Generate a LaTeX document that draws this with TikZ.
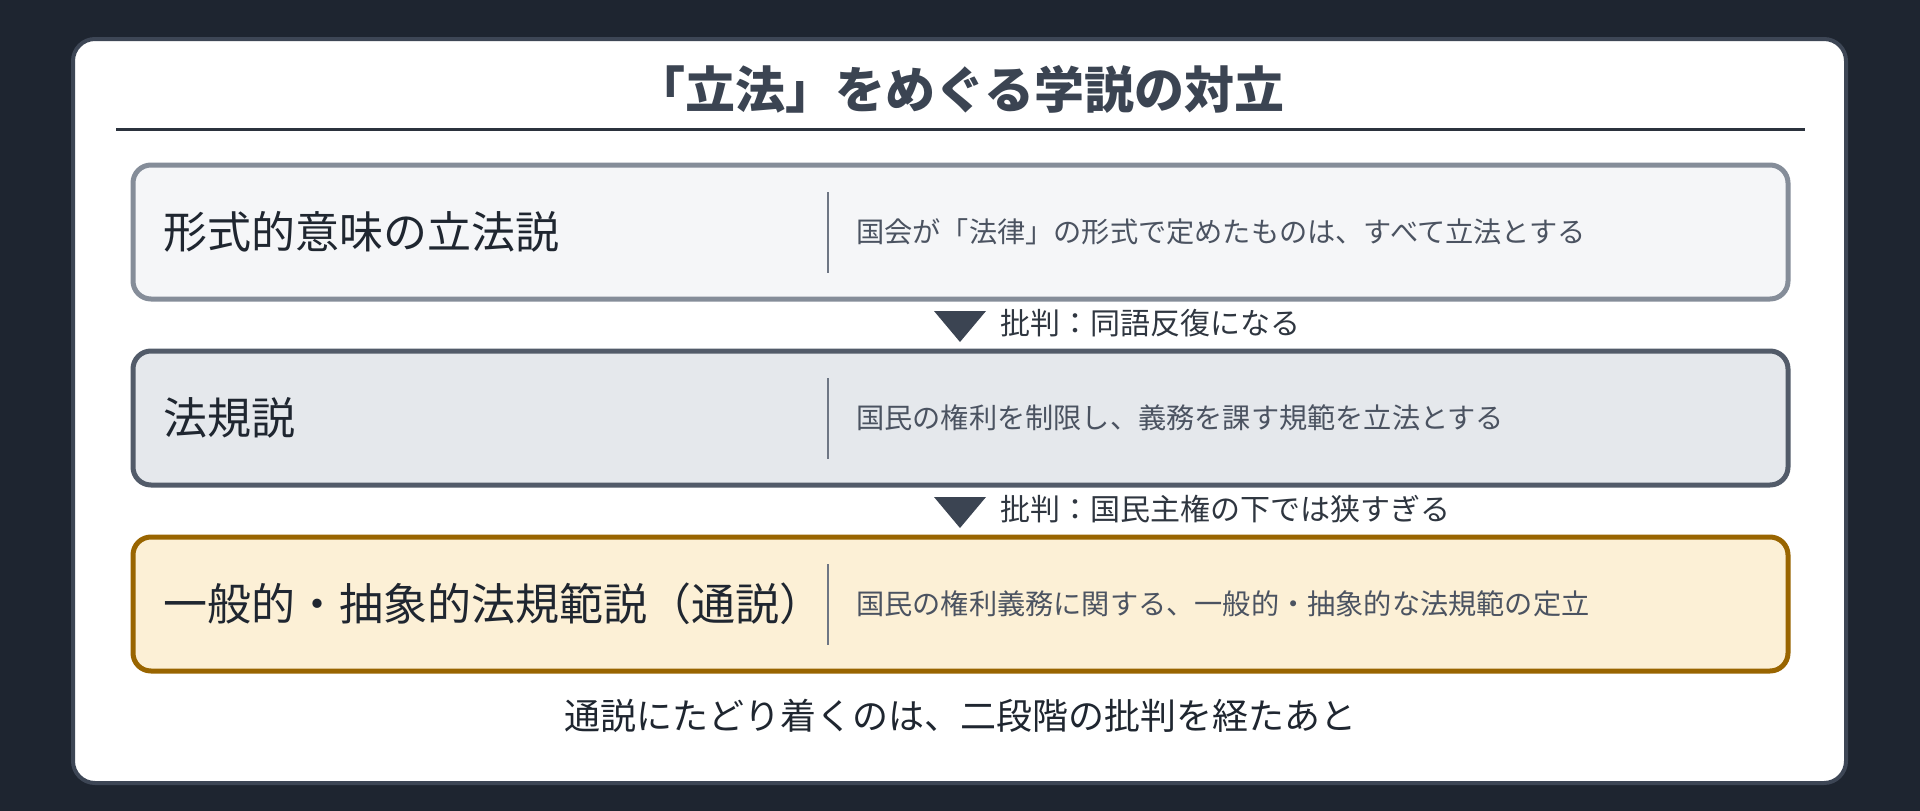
\documentclass[tikz,border=0pt]{standalone}
\usepackage{fontspec}
\setmainfont{Noto Sans CJK JP}
\usetikzlibrary{positioning,calc}

\definecolor{bgdark}{HTML}{1E2530}
\definecolor{cardedge}{HTML}{3D4655}
\definecolor{titleink}{HTML}{3B4452}
\definecolor{rulecol}{HTML}{2B323D}
\definecolor{formalfill}{HTML}{F5F6F8}
\definecolor{formaledge}{HTML}{858D99}
\definecolor{normfill}{HTML}{E5E8EC}
\definecolor{normedge}{HTML}{525B69}
\definecolor{generalfill}{HTML}{FCF0D6}
\definecolor{generaledge}{HTML}{996500}
\definecolor{ink}{HTML}{1F2630}
\definecolor{descgray}{HTML}{4B5361}
\definecolor{divgray}{HTML}{6E7684}
\definecolor{critink}{HTML}{2F3640}

\begin{document}
\begin{tikzpicture}[x=1pt, y=-1pt,
    theory/.style={draw, rounded corners=18pt, line width=5pt, inner sep=0pt,
        minimum width=1655pt, minimum height=134pt},
    theoryname/.style={anchor=west, inner sep=0pt, text=ink, font=\fontsize{44}{52}\selectfont},
    theorydesc/.style={inner sep=0pt, text=descgray, font=\fontsize{28.2}{34}\selectfont},
    critlabel/.style={inner sep=0pt, text=critink, font=\fontsize{30}{36}\selectfont},
    divider/.style={draw=divgray, line width=2.5pt},
    tri/.style={fill=titleink},
    node distance=28pt
]
\fill[bgdark] (0,0) rectangle (1920,811);
\node[draw=cardedge, fill=white, line width=4pt, rounded corners=22pt, inner sep=0pt,
    minimum width=1773pt, minimum height=744pt] (card) at (959.5,411) {};

% title
\node[text=titleink, font=\fontsize{50}{60}\selectfont\bfseries] (title) at (960,89) {「立法」をめぐる学説の対立};
\draw[rulecol, line width=3pt] (116,129) -- (1805,129);

% formal
\node[theory, draw=formaledge, fill=formalfill] (formal) at (960.5,232) {};
\node[theoryname] (formalname) at (163,232) {形式的意味の立法説};
\coordinate (div1) at (828,232);
\draw[divider] ($(div1)+(0,-40)$) -- ($(div1)+(0,41)$);
\node[theorydesc, right=of div1] (formaldesc) {国会が「法律」の形式で定めたものは、すべて立法とする};

\coordinate (crit1) at (960,311);
\fill[tri] (crit1) ++(-26,0) -- ++(52,0) -- ++(-26,31) -- cycle;
\node[critlabel] (crit1text) at (1000,323) [anchor=west] {批判：同語反復になる};

% norm
\node[theory, draw=normedge, fill=normfill] (norm) at (960.5,418) {};
\node[theoryname] (normname) at (163,418) {法規説};
\coordinate (div2) at (828,418);
\draw[divider] ($(div2)+(0,-40)$) -- ($(div2)+(0,41)$);
\node[theorydesc, right=of div2] (normdesc) {国民の権利を制限し、義務を課す規範を立法とする};

\coordinate (crit2) at (960,497);
\fill[tri] (crit2) ++(-26,0) -- ++(52,0) -- ++(-26,31) -- cycle;
\node[critlabel] (crit2text) at (1000,509) [anchor=west] {批判：国民主権の下では狭すぎる};

% general
\node[theory, draw=generaledge, fill=generalfill] (general) at (960.5,604) {};
\node[theoryname] (generalname) at (163,604) {一般的・抽象的法規範説（通説）};
\coordinate (div3) at (828,604);
\draw[divider] ($(div3)+(0,-40)$) -- ($(div3)+(0,41)$);
\node[theorydesc, right=of div3] (generaldesc) {国民の権利義務に関する、一般的・抽象的な法規範の定立};

\node[text=ink, font=\fontsize{36}{42}\selectfont] (summary) at (960,716) {通説にたどり着くのは、二段階の批判を経たあと};

\end{tikzpicture}
\end{document}
